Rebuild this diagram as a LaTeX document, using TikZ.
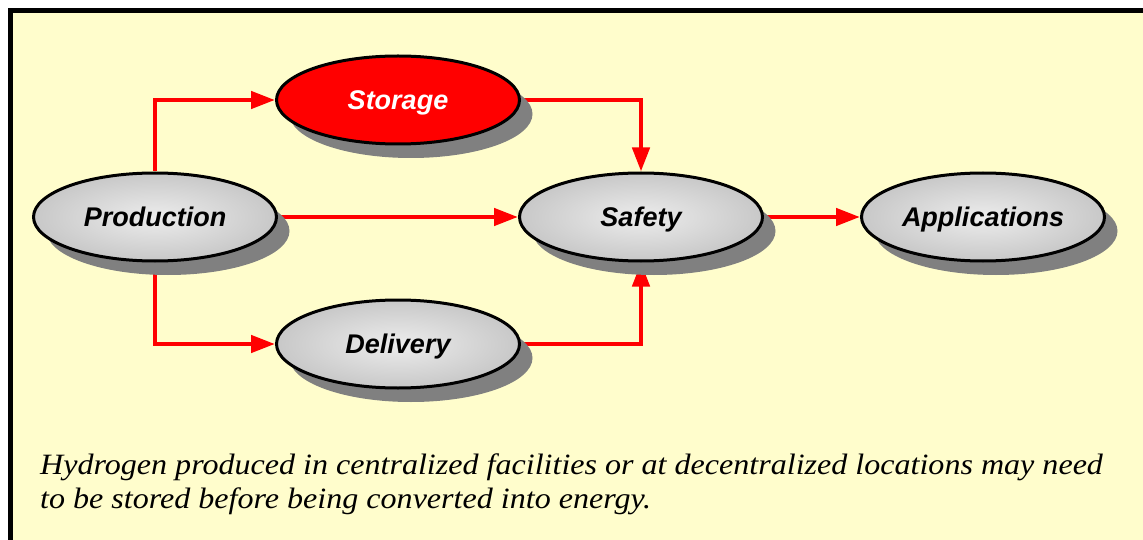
\documentclass[tikz,border=0pt]{standalone}
\usepackage{fontspec}
\setmainfont{Liberation Serif}
\newfontfamily\arialf{Liberation Sans}
\newfontfamily\capf[FakeStretch=1.087]{Liberation Serif}
\usetikzlibrary{shapes.geometric,arrows.meta,shadows}
\definecolor{bgy}{RGB}{255,253,204}
\definecolor{shadowgray}{RGB}{128,128,128}
\definecolor{ellin}{RGB}{236,236,236}
\definecolor{ellmid}{RGB}{200,200,200}
\definecolor{ellout}{RGB}{140,140,140}
\pgfdeclareradialshading{ellgray}{\pgfpoint{0bp}{0bp}}{color(0bp)=(ellin); color(25bp)=(ellmid); color(50bp)=(ellout)}
\pgfdeclarelayer{bg}
\pgfsetlayers{bg,main}
\tikzset{
  ellbase/.style={ellipse, draw=black, line width=3pt, minimum width=243pt, minimum height=88pt, inner sep=0pt,
    text height=19pt, text depth=0pt,
    font=\arialf\bfseries\itshape\fontsize{27}{32}\selectfont,
    drop shadow={shadow xshift=13pt, shadow yshift=-14pt, fill=shadowgray, opacity=1}},
  grayell/.style={ellbase, shading=ellgray, text=black},
  redell/.style={ellbase, fill=red, text=white},
  conn/.style={draw=red, line width=4.5pt, -{Triangle[length=24pt,width=17pt]}},
  captext/.style={anchor=base west, inner sep=0pt, font=\capf\itshape\fontsize{29.5}{34}\selectfont}
}
\begin{document}
\begin{tikzpicture}[x=1pt,y=-1pt]
\useasboundingbox (0,0) rectangle (1143,540);
\clip (0,0) rectangle (1143,540);
\begin{pgfonlayer}{bg}
  \fill[white] (0,0) rectangle (1143,540);
  \draw[line width=5pt, fill=bgy] (10.5,10.5) rectangle (1170,570);
\end{pgfonlayer}

\node[grayell] (prod) at (155,217) {Production};
\node[redell]  (stor) at (398,100) {Storage};
\node[grayell] (safe) at (641,217) {Safety};
\node[grayell] (del)  at (398,344) {Delivery};
\node[grayell] (app)  at (983,217) {Applications};

\begin{pgfonlayer}{bg}
  \draw[conn] (prod.north) |- (stor.west);
  \draw[conn] (prod.south) |- (del.west);
  \draw[conn] (prod.east) -- (safe.west);
  \draw[conn] (stor.east) -| (safe.north);
  \draw[conn] (del.east) -| (safe.south);
  \draw[conn] (safe.east) -- (app.west);
\end{pgfonlayer}

\node[captext] (cap1) at (40,474) {Hydrogen produced in centralized facilities or at decentralized locations may need};
\node[captext] (cap2) at (40,508) {to be stored before being converted into energy.};
\end{tikzpicture}
\end{document}
